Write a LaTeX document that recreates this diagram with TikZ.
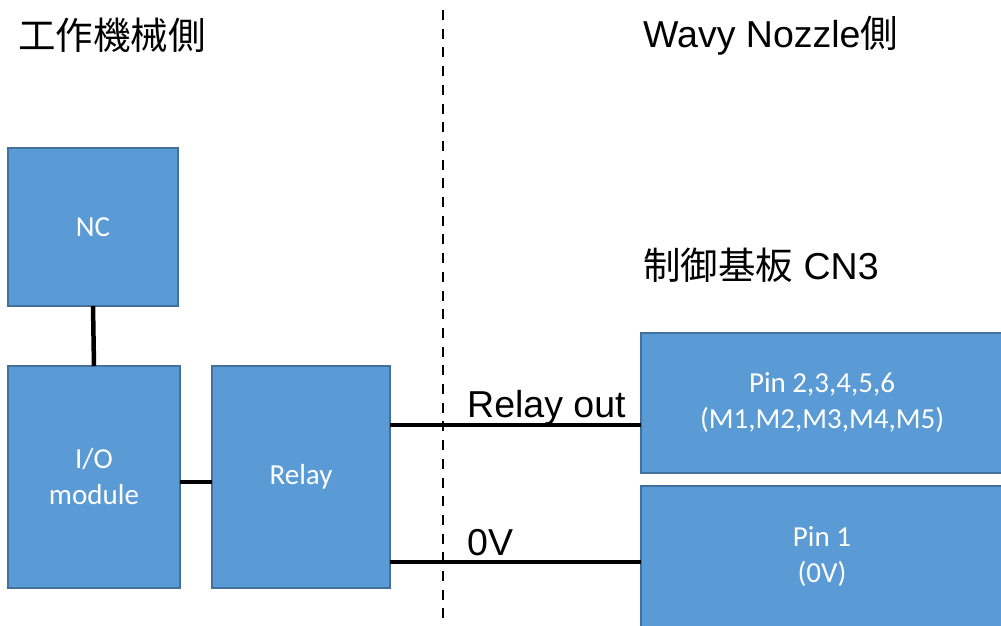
\documentclass[tikz,border=0pt]{standalone}
\usepackage{fontspec}
\setmainfont{Liberation Sans}
\newfontfamily\cjkfont{Noto Sans CJK JP}
\newfontfamily\boxfont{Carlito}
\definecolor{boxfill}{HTML}{5B9BD5}
\definecolor{boxedge}{HTML}{41719C}
\begin{document}
\begin{tikzpicture}[x=1pt,y=-1pt,
  blk/.style={draw=boxedge,fill=boxfill,line width=2pt,inner sep=0pt,outer sep=0pt,
    text=white,align=center,font=\boxfont\fontsize{29}{36}\selectfont},
  wire/.style={line width=4.5pt,black},
  title/.style={anchor=base west,inner sep=0pt,font=\fontsize{37.5}{44}\selectfont}]
\useasboundingbox (0,0) rectangle (1001,626);
\fill[white] (0,0) rectangle (1001,626);
% boxes
\node[blk,minimum width=170pt,minimum height=158pt] (nc) at (93,227) {NC};
\node[blk,minimum width=172pt,minimum height=222pt] (io) at (94,477) {I/O\\module};
\node[blk,minimum width=178pt,minimum height=222pt] (relay) at (301,477) {Relay};
\node[blk,minimum width=362pt,minimum height=140pt] (pina) at (822,403) {Pin 2,3,4,5,6\\(M1,M2,M3,M4,M5)};
\node[blk,minimum width=362pt,minimum height=142pt] (pinb) at (822,557) {Pin 1\\(0V)};
% divider
\coordinate (dtop) at (443,10);
\coordinate (dbot) at (443,618);
\draw[line width=2pt,dash pattern=on 10pt off 8.7pt] (dtop) -- (dbot);
% wires
\draw[wire] (nc.south) -- (io.north);
\draw[wire] (io.east |- 0,482) -- (relay.west |- 0,482);
\draw[wire] (relay.east |- 0,425) -- (pina.west |- 0,425);
\draw[wire] (relay.east |- 0,562) -- (pinb.west |- 0,562);
% labels
\node[title] (t1) at (18,49) {\cjkfont 工作機械側};
\node[title] (t2) at (643,48) {Wavy Nozzle{\cjkfont 側}};
\node[title] (t3) at (643,279) {{\cjkfont 制御基板} CN3};
\node[title] (l1) at (467,417) {Relay out};
\node[title] (l2) at (467,555) {0V};
\end{tikzpicture}
\end{document}
